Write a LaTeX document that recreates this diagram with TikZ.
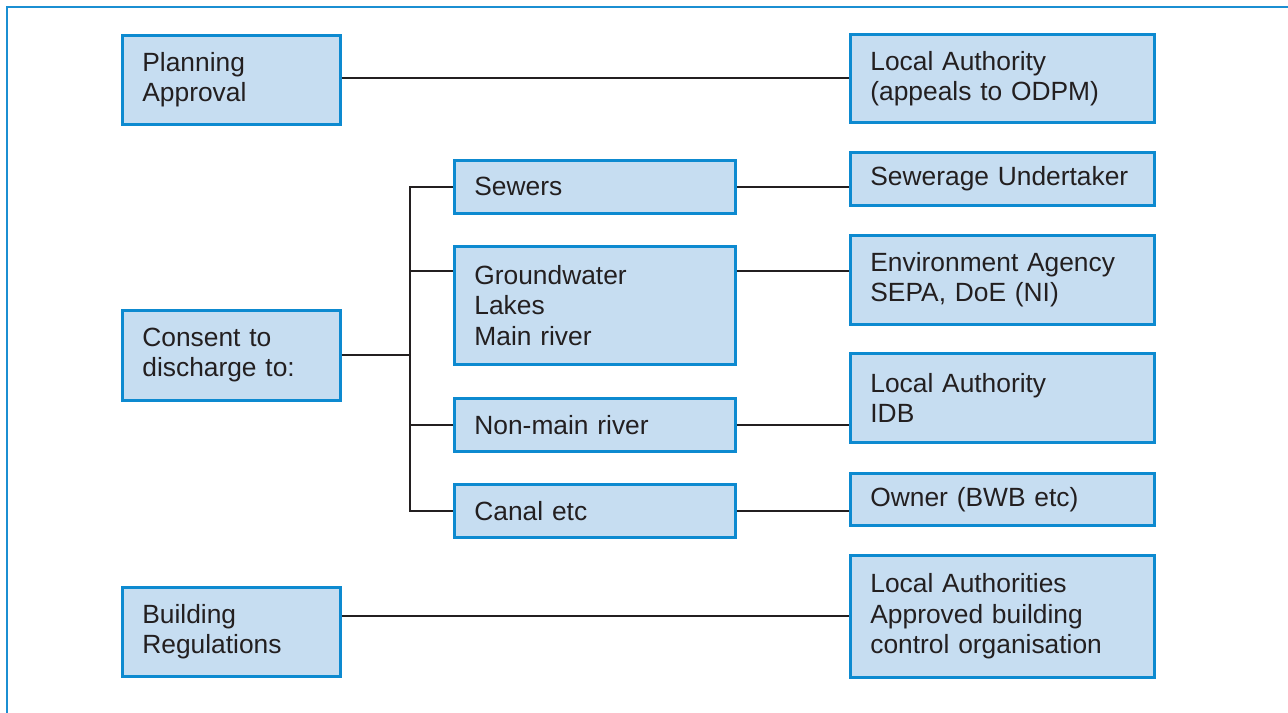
\documentclass[tikz,border=0pt]{standalone}
\usepackage{fontspec}
\setmainfont{Liberation Sans}
\usepackage{tikz}
\usetikzlibrary{positioning,calc}

\definecolor{frameblue}{HTML}{1B8FD2}
\definecolor{boxblue}{HTML}{0D8AD0}
\definecolor{boxfill}{HTML}{C6DDF1}
\definecolor{ink}{HTML}{231F20}

\begin{document}
\begin{tikzpicture}[x=0.02cm, y=-0.02cm, semithick,
        box/.style={draw=boxblue,fill=boxfill,line width=1.6pt,anchor=north west,
          align=left,inner xsep=0.4cm,inner ysep=0pt,text=ink,
          font=\fontsize{15}{17.2}\selectfont},
        topic/.style={box,text width=3.56cm},
        outlet/.style={box,text width=4.82cm},
        body/.style={box,text width=5.28cm},
        link/.style={draw=ink,line width=1.2pt}]
        \useasboundingbox (0,0) rectangle (1288,713);
        \draw[frameblue,line width=1.3pt] (1290,7) -- (7,7) -- (7,715);

        % left column
        \node[topic,minimum height=1.78cm] at (121,34) (pa) {Planning\\Approval};
        \node[topic,minimum height=1.80cm] at (121,309) (con) {Consent to\\discharge to:};
        \node[topic,minimum height=1.78cm] at (121,586) (br) {Building\\Regulations};

        % middle column
        \node[outlet,minimum height=1.06cm] at (453,159) (sew) {Sewers};
        \node[outlet,minimum height=2.36cm] at (453,245) (gw) {Groundwater\\Lakes\\Main river};
        \node[outlet,minimum height=1.06cm] at (453,397) (nmr) {Non-main river};
        \node[outlet,minimum height=1.06cm] at (453,483) (canal) {Canal etc};

        % right column
        \node[body,minimum height=1.76cm] at (849,33) (la) {Local Authority\\(appeals to ODPM)};
        \node[body,minimum height=1.06cm] at (849,151) (su) {Sewerage Undertaker};
        \node[body,minimum height=1.78cm] at (849,234) (ea) {Environment Agency\\SEPA, DoE (NI)};
        \node[body,minimum height=1.78cm] at (849,352) (idb) {Local Authority\\IDB};
        \node[body,minimum height=1.04cm] at (849,472) (own) {Owner (BWB etc)};
        \node[body,minimum height=2.44cm] at (849,554) (las) {Local Authorities\\Approved building\\control organisation};

        \coordinate (bus) at (410,0);
        \coordinate (gwtap) at ($(gw.north west)+(0,26)$);

        \path[link] (la.west -| pa.east) -- (la.west);
        \path[link] (las.west -| br.east) -- (las.west);

        \path[link] (con.east) -- (con.east -| bus);
        \path[link] (sew.west) -- (sew.west -| bus) |- (canal.west);
        \path[link] (gwtap) -- (gwtap -| bus);
        \path[link] (nmr.west) -- (nmr.west -| bus);

        \path[link] (sew.east) -- (sew.east -| su.west);
        \path[link] (gwtap -| gw.east) -- (gwtap -| ea.west);
        \path[link] (nmr.east) -- (nmr.east -| idb.west);
        \path[link] (canal.east) -- (canal.east -| own.west);
      \end{tikzpicture}
\end{document}
